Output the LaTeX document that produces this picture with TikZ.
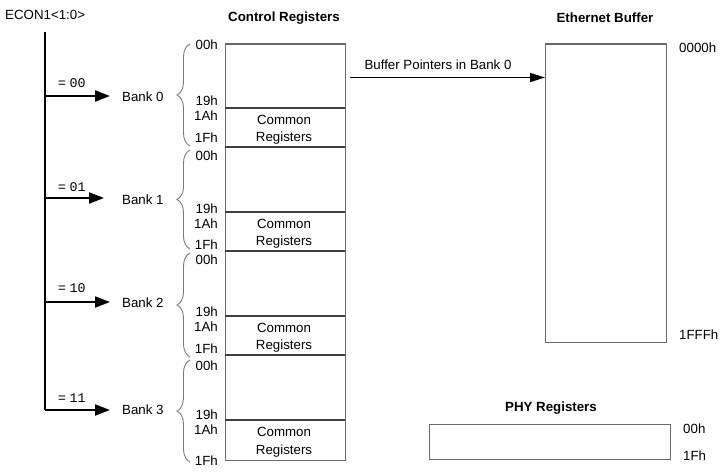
\documentclass[tikz,border=0pt]{standalone}
\usepackage{fontspec}
\setmainfont{Liberation Sans}
\newfontfamily\monof{Liberation Mono}
\usetikzlibrary{arrows.meta,decorations.pathreplacing}
\definecolor{boxgray}{HTML}{6A6A6A}
\definecolor{linegray}{HTML}{404040}
\definecolor{bracegray}{HTML}{7A7A7A}
\begin{document}
\begin{tikzpicture}[x=1pt,y=-1pt,
  every node/.style={font=\fontsize{13.3}{16}\selectfont, inner sep=0pt, text=black},
  title/.style={font=\fontsize{13.3}{16}\selectfont\bfseries},
  addr/.style={anchor=east},
  addrr/.style={anchor=west},
  regbox/.style={draw=boxgray, line width=1.2pt},
  sepline/.style={draw=linegray, line width=1.2pt},
  bankarrow/.style={line width=2pt, -{Triangle[length=15pt,width=11pt]}},
  bankbrace/.style={draw=bracegray, line width=0.9pt, decorate, decoration={brace, amplitude=13pt, aspect=0.5}},
  common/.style={align=center, font=\fontsize{13.3}{17.5}\selectfont}
]
\useasboundingbox (0,0) rectangle (722,473);

% ECON1 bus
\node[anchor=west] (econ) at (5,15) {ECON1<1:0>};
\coordinate (bustop) at (45,32);
\coordinate (busbot) at (45,410);
\draw[line width=2pt] (bustop) -- (busbot);

% bank labels
\node[anchor=west] (b0) at (122,97) {Bank 0};
\node[anchor=west] (b1) at (122,200) {Bank 1};
\node[anchor=west] (b2) at (122,303) {Bank 2};
\node[anchor=west] (b3) at (122,410) {Bank 3};

\coordinate (t0) at (45,96);
\coordinate (t1) at (45,198);
\coordinate (t2) at (45,302);
\coordinate (t3) at (45,410);
\coordinate (e0) at (110,96);
\coordinate (e1) at (104,198);
\coordinate (e2) at (110,302);
\coordinate (e3) at (110,410);
\draw[bankarrow] (t0) -- (e0);
\draw[bankarrow] (t1) -- (e1);
\draw[bankarrow] (t2) -- (e2);
\draw[bankarrow] (t3) -- (e3);

\node[anchor=west] (v0) at (58,83) {= {\monof 00}};
\node[anchor=west] (v1) at (58,187) {= {\monof 01}};
\node[anchor=west] (v2) at (58,288) {= {\monof 10}};
\node[anchor=west] (v3) at (58,398) {= {\monof 11}};

% braces
\coordinate (br0a) at (190,146); \coordinate (br0b) at (190,44);
\coordinate (br1a) at (190,249); \coordinate (br1b) at (190,150);
\coordinate (br2a) at (190,357); \coordinate (br2b) at (190,253);
\coordinate (br3a) at (190,462); \coordinate (br3b) at (190,360);
\draw[bankbrace] (br0a) -- (br0b);
\draw[bankbrace] (br1a) -- (br1b);
\draw[bankbrace] (br2a) -- (br2b);
\draw[bankbrace] (br3a) -- (br3b);

% Control registers
\node[title] (ctitle) at (284,18) {Control Registers};
\node[regbox, minimum width=120pt, minimum height=416pt, anchor=north west] (ctrl) at (225,43.5) {};
\foreach \y in {108,147,212,251,316,355,420}{
  \draw[sepline] (225,\y) -- (345,\y);
}
\node[common] (c0) at (284,129.5) {Common\\Registers};
\node[common] (c1) at (284,233.5) {Common\\Registers};
\node[common] (c2) at (284,337.5) {Common\\Registers};
\node[common] (c3) at (284,442) {Common\\Registers};

% address labels
\node[addr] (a00) at (218,45) {00h};
\node[addr] (a01) at (218,101) {19h};
\node[addr] (a02) at (218,116) {1Ah};
\node[addr] (a03) at (218,138) {1Fh};
\node[addr] (a10) at (218,156) {00h};
\node[addr] (a11) at (218,209) {19h};
\node[addr] (a12) at (218,224) {1Ah};
\node[addr] (a13) at (218,245) {1Fh};
\node[addr] (a20) at (218,260) {00h};
\node[addr] (a21) at (218,312) {19h};
\node[addr] (a22) at (218,327) {1Ah};
\node[addr] (a23) at (218,349) {1Fh};
\node[addr] (a30) at (218,366) {00h};
\node[addr] (a31) at (218,415) {19h};
\node[addr] (a32) at (218,430) {1Ah};
\node[addr] (a33) at (218,461) {1Fh};

% Ethernet buffer
\node[title] (etitle) at (605,18) {Ethernet Buffer};
\node[regbox, minimum width=121pt, minimum height=298pt, anchor=north west] (ebuf) at (545,43.5) {};
\node[addrr] (e0000) at (679,48) {0000h};
\node[addrr] (e1fff) at (679,335) {1FFFh};

% buffer pointer arrow
\coordinate (bpstart) at (350,77.5);
\draw[line width=1.6pt, -{Triangle[length=15pt,width=9pt]}] (bpstart) -- (ebuf.west |- bpstart);
\node (bplabel) at (438,65) {Buffer Pointers in Bank 0};

% PHY registers
\node[title] (ptitle) at (551,408) {PHY Registers};
\node[regbox, minimum width=241pt, minimum height=35pt, anchor=north west] (phy) at (429,424) {};
\node[addrr] (p00) at (683,429) {00h};
\node[addrr] (p1f) at (683,456) {1Fh};
\end{tikzpicture}
\end{document}
